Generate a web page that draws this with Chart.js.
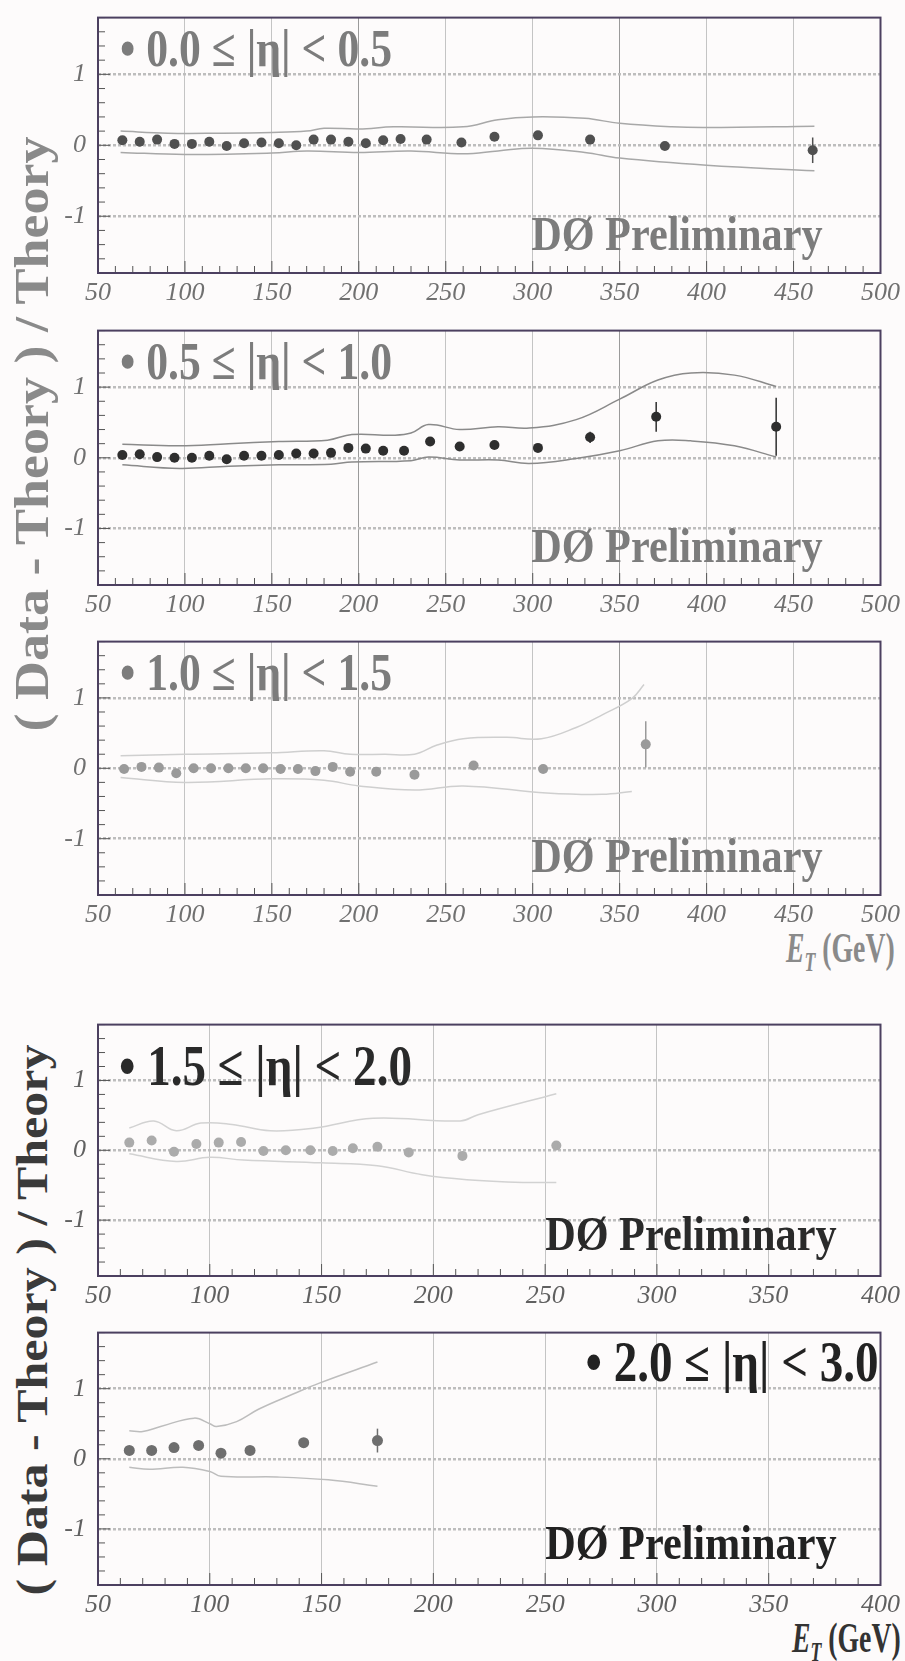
<!DOCTYPE html>
<html>
<head>
<meta charset="utf-8">
<script src="https://cdn.jsdelivr.net/npm/chart.js@4.4.0/dist/chart.umd.min.js"></script>
<style>
  body { margin: 0; background: #fdfbfb; width: 905px; height: 1661px; position: relative; overflow: hidden; font-family: "Liberation Serif", "Times New Roman", serif; }
  canvas { position: absolute; left: 0; }
  .ytitle { position: absolute; font-weight: bold; white-space: nowrap; transform: translate(-50%, -50%) rotate(-90deg) scaleY(0.9); }
  .et { position: absolute; font-weight: bold; font-size: 42px; line-height: 48px; white-space: nowrap; transform: scaleX(0.66); transform-origin: left top; }
  .et sub { font-size: 27px; }
</style>
</head>
<body>
<div class="ytitle" style="left:32px; top:434px; font-size:54px; color:#8a8a8a;">( Data - Theory ) / Theory</div>
<div class="ytitle" style="left:32px; top:1320px; font-size:50px; color:#3a3a3a;">( Data - Theory ) / Theory</div>
<div class="et" style="left:786px; top:924px; color:#8a8a8a;"><i>E<sub>T</sub></i> (GeV)</div>
<div class="et" style="left:792px; top:1614px; color:#333;"><i>E<sub>T</sub></i> (GeV)</div>

<canvas id="p1"></canvas>
<canvas id="p2"></canvas>
<canvas id="p3"></canvas>
<canvas id="p4"></canvas>
<canvas id="p5"></canvas>

<script>
// tick labels
const xTicksWide = [50, 100, 150, 200, 250, 300, 350, 400, 450, 500];
const xTicksNarrow = [50, 100, 150, 200, 250, 300, 350, 400];
const yTicks = [-1, 0, 1];

// 0.0 <= |eta| < 0.5
const et1 = [64, 74, 84, 94, 104, 114, 124, 134, 144, 154, 164, 174, 184, 194, 204, 214, 224, 239, 259, 278, 303, 333, 376, 461];
const ratio1 = [0.07, 0.05, 0.08, 0.02, 0.02, 0.05, -0.01, 0.03, 0.04, 0.03, 0.0, 0.08, 0.08, 0.05, 0.03, 0.07, 0.09, 0.08, 0.04, 0.12, 0.14, 0.08, -0.01, -0.07];
const err1 = [0.02, 0.02, 0.02, 0.02, 0.02, 0.02, 0.02, 0.02, 0.02, 0.02, 0.02, 0.02, 0.02, 0.02, 0.02, 0.02, 0.02, 0.02, 0.03, 0.03, 0.03, 0.04, 0.05, 0.18];
const up1X = [63, 90, 120, 150, 170, 180, 200, 220, 260, 280, 300, 330, 350, 380, 400, 462];
const up1Y = [0.2, 0.17, 0.17, 0.18, 0.2, 0.24, 0.23, 0.26, 0.26, 0.36, 0.4, 0.38, 0.31, 0.26, 0.25, 0.27];
const lo1X = [63, 100, 150, 170, 200, 230, 260, 280, 300, 330, 350, 400, 462];
const lo1Y = [-0.1, -0.13, -0.11, -0.08, -0.1, -0.08, -0.12, -0.08, -0.04, -0.1, -0.18, -0.28, -0.36];

// 0.5 <= |eta| < 1.0
const et2 = [64, 74, 84, 94, 104, 114, 124, 134, 144, 154, 164, 174, 184, 194, 204, 214, 226, 241, 258, 278, 303, 333, 371, 440];
const ratio2 = [0.04, 0.05, 0.01, 0.0, 0.0, 0.03, -0.02, 0.03, 0.03, 0.04, 0.06, 0.06, 0.07, 0.14, 0.13, 0.1, 0.1, 0.23, 0.16, 0.18, 0.14, 0.29, 0.58, 0.44];
const err2 = [0.02, 0.02, 0.02, 0.02, 0.02, 0.02, 0.02, 0.02, 0.02, 0.02, 0.02, 0.02, 0.02, 0.02, 0.02, 0.02, 0.03, 0.03, 0.03, 0.03, 0.04, 0.08, 0.21, 0.41];
const up2X = [64, 97, 125, 154, 182, 196, 220, 230, 240, 258, 280, 298, 325, 350, 372, 391, 416, 440];
const up2Y = [0.19, 0.17, 0.2, 0.23, 0.25, 0.33, 0.32, 0.35, 0.47, 0.4, 0.44, 0.42, 0.54, 0.83, 1.1, 1.2, 1.17, 1.01];
const lo2X = [64, 97, 125, 154, 184, 196, 230, 240, 258, 280, 298, 325, 350, 372, 391, 416, 440];
const lo2Y = [-0.1, -0.15, -0.12, -0.1, -0.09, -0.06, -0.04, 0.01, -0.03, -0.03, -0.08, -0.01, 0.1, 0.24, 0.24, 0.17, 0.01];

// 1.0 <= |eta| < 1.5
const et3 = [65, 75, 85, 95, 105, 115, 125, 135, 145, 155, 165, 175, 185, 195, 210, 232, 266, 306, 365];
const ratio3 = [-0.01, 0.02, 0.01, -0.07, 0.0, 0.0, 0.0, 0.0, 0.0, -0.01, -0.01, -0.04, 0.02, -0.05, -0.05, -0.09, 0.04, -0.01, 0.34];
const err3 = [0.02, 0.02, 0.02, 0.02, 0.02, 0.02, 0.02, 0.02, 0.02, 0.02, 0.02, 0.02, 0.02, 0.03, 0.03, 0.04, 0.04, 0.04, 0.33];
const up3X = [63, 100, 150, 180, 195, 215, 232, 245, 260, 285, 305, 325, 340, 357, 364];
const up3Y = [0.18, 0.2, 0.22, 0.25, 0.2, 0.2, 0.2, 0.33, 0.42, 0.44, 0.42, 0.58, 0.76, 0.99, 1.19];
const lo3X = [63, 100, 150, 180, 200, 232, 260, 308, 340, 357];
const lo3Y = [-0.13, -0.2, -0.15, -0.17, -0.25, -0.31, -0.25, -0.35, -0.37, -0.33];

// 1.5 <= |eta| < 2.0
const et4 = [64, 74, 84, 94, 104, 114, 124, 134, 145, 155, 164, 175, 189, 213, 255];
const ratio4 = [0.11, 0.14, -0.02, 0.09, 0.11, 0.12, -0.01, 0.0, 0.0, -0.01, 0.03, 0.05, -0.03, -0.08, 0.07];
const err4 = [0.03, 0.03, 0.03, 0.03, 0.03, 0.03, 0.03, 0.03, 0.03, 0.03, 0.03, 0.03, 0.04, 0.05, 0.06];
const up4X = [64, 75, 85, 96, 110, 127, 147, 173, 212, 220, 255];
const up4Y = [0.32, 0.42, 0.28, 0.39, 0.37, 0.28, 0.32, 0.46, 0.42, 0.51, 0.81];
const lo4X = [64, 85, 100, 115, 150, 175, 195, 215, 240, 255];
const lo4Y = [-0.05, -0.16, -0.1, -0.14, -0.18, -0.22, -0.35, -0.42, -0.46, -0.46];

// 2.0 <= |eta| < 3.0
const et5 = [64, 74, 84, 95, 105, 118, 142, 175];
const ratio5 = [0.12, 0.12, 0.16, 0.19, 0.08, 0.12, 0.23, 0.26];
const err5 = [0.03, 0.03, 0.03, 0.03, 0.03, 0.04, 0.06, 0.17];
const up5X = [64, 70, 78, 93, 100, 103, 112, 122, 137, 149, 175];
const up5Y = [0.4, 0.39, 0.46, 0.58, 0.5, 0.46, 0.53, 0.71, 0.92, 1.08, 1.38];
const lo5X = [64, 73, 88, 100, 105, 130, 153, 175];
const lo5Y = [-0.12, -0.15, -0.12, -0.18, -0.25, -0.26, -0.3, -0.39];

const toXY = (xs, ys) => xs.map((x, i) => ({ x: x, y: ys[i] }));
const SERIF = "'Liberation Serif', 'Times New Roman', serif";

// condensed text, like the squeezed scan
function squeezeText(ctx, text, x, y, align, sx) {
  ctx.save();
  ctx.translate(x, y);
  ctx.scale(sx, 1);
  ctx.textAlign = align;
  ctx.fillText(text, 0, 0);
  ctx.restore();
}

// draws error bars, minor ticks, frame and panel texts
const decor = {
  id: "decor",
  afterDatasetsDraw(chart) {
    const { ctx, scales: { x, y } } = chart;
    const ds = chart.data.datasets[0];
    ctx.save();
    ctx.strokeStyle = ds.backgroundColor;
    ctx.lineWidth = 1.5;
    ds.data.forEach((p, i) => {
      const e = ds.errors[i];
      const px = x.getPixelForValue(p.x);
      ctx.beginPath();
      ctx.moveTo(px, y.getPixelForValue(p.y - e));
      ctx.lineTo(px, y.getPixelForValue(p.y + e));
      ctx.stroke();
    });
    ctx.restore();
  },
  afterDraw(chart, args, opts) {
    const { ctx, chartArea: a, scales: { x, y } } = chart;
    ctx.save();
    // minor ticks
    ctx.strokeStyle = "#555";
    ctx.lineWidth = 1;
    for (let v = 50; v <= x.max; v += 10) {
      const px = x.getPixelForValue(v);
      const len = v % 50 === 0 ? 12 : 7;
      ctx.beginPath();
      ctx.moveTo(px, a.bottom);
      ctx.lineTo(px, a.bottom - len);
      ctx.stroke();
    }
    for (let i = -9; i <= 9; i++) {
      const py = y.getPixelForValue(i * 0.2);
      const len = i % 5 === 0 ? 12 : 7;
      ctx.beginPath();
      ctx.moveTo(a.left, py);
      ctx.lineTo(a.left + len, py);
      ctx.stroke();
    }
    // frame
    ctx.strokeStyle = opts.frame;
    ctx.lineWidth = 2;
    ctx.strokeRect(a.left, a.top, a.right - a.left, a.bottom - a.top);
    // eta label
    ctx.fillStyle = opts.textColor;
    ctx.textBaseline = "alphabetic";
    ctx.font = "bold " + opts.labelSize + "px " + SERIF;
    if (opts.labelRight) {
      squeezeText(ctx, opts.label, a.right - 2, a.top + opts.labelDy, "right", 0.84);
    } else {
      squeezeText(ctx, opts.label, a.left + opts.labelDx, a.top + opts.labelDy, "left", 0.84);
    }
    // experiment tag
    ctx.font = "bold 48px " + SERIF;
    squeezeText(ctx, "DØ Preliminary", a.right - opts.tagDx, a.bottom - opts.tagDy, "right", 0.88);
    ctx.restore();
  }
};

function makePanel(id, o) {
  const canvas = document.getElementById(id);
  const h = o.bottom - o.top + 20 + 45;
  canvas.width = 905;
  canvas.height = h;
  canvas.style.top = (o.top - 20) + "px";
  canvas.style.width = "905px";
  canvas.style.height = h + "px";

  const band = (pts) => ({
    type: "line",
    data: pts,
    showLine: true,
    borderColor: o.bandColor,
    borderWidth: 1.5,
    pointRadius: 0,
    tension: 0.4,
    fill: false,
  });

  new Chart(canvas.getContext("2d"), {
    type: "scatter",
    data: {
      datasets: [
        {
          data: toXY(o.et, o.ratio),
          errors: o.err,
          backgroundColor: o.dotColor,
          borderWidth: 0,
          pointRadius: o.dotRadius,
        },
        band(toXY(o.upX, o.upY)),
        band(toXY(o.loX, o.loY)),
      ],
    },
    options: {
      responsive: false,
      animation: false,
      devicePixelRatio: 1,
      layout: { padding: { top: 20, right: 19, left: 0, bottom: 0 } },
      plugins: {
        legend: { display: false },
        tooltip: { enabled: false },
        decor: {
          frame: "#4c4060",
          textColor: o.textColor,
          label: o.label,
          labelSize: o.labelSize,
          labelRight: o.labelRight,
          labelDx: o.labelDx,
          labelDy: o.labelDy,
          tagDx: o.tagDx,
          tagDy: o.tagDy,
        },
      },
      scales: {
        x: {
          type: "linear",
          min: 50,
          max: o.xMax,
          afterBuildTicks: (s) => { s.ticks = o.xTicks.map((v) => ({ value: v })); },
          afterFit: (s) => { s.height = 45; },
          grid: {
            color: (c) => (c.tick && (c.tick.value === 350 || c.tick.value === 200) && o.xMax === 500 ? "#9a9a9a" : "#c4c4c4"),
            lineWidth: 1,
            drawTicks: false,
          },
          border: { display: false },
          ticks: {
            padding: 5,
            color: o.tickColor,
            font: { family: SERIF, size: 26, style: "italic" },
            maxRotation: 0,
          },
        },
        y: {
          type: "linear",
          min: -1.8,
          max: 1.8,
          afterBuildTicks: (s) => { s.ticks = yTicks.map((v) => ({ value: v })); },
          afterFit: (s) => { s.width = 98; },
          grid: { color: "#bdbdbd", lineWidth: 2.5, drawTicks: false },
          border: { display: false, dash: [3, 2] },
          ticks: {
            padding: 12,
            color: o.tickColor,
            font: { family: SERIF, size: 26, style: "italic" },
            callback: (v) => String(v),
          },
        },
      },
    },
    plugins: [decor],
  });
}

makePanel("p1", {
  top: 10, bottom: 273, xMax: 500, xTicks: xTicksWide,
  et: et1, ratio: ratio1, err: err1, upX: up1X, upY: up1Y, loX: lo1X, loY: lo1Y,
  dotColor: "#505050", dotRadius: 5, bandColor: "#a8a8a8",
  textColor: "#7c7c7c", tickColor: "#707070",
  label: "• 0.0 ≤ |η| < 0.5", labelSize: 52, labelDx: 22, labelDy: 48, tagDx: 58, tagDy: 23,
});
makePanel("p2", {
  top: 323, bottom: 585, xMax: 500, xTicks: xTicksWide,
  et: et2, ratio: ratio2, err: err2, upX: up2X, upY: up2Y, loX: lo2X, loY: lo2Y,
  dotColor: "#2e2e2e", dotRadius: 5, bandColor: "#8a8a8a",
  textColor: "#7c7c7c", tickColor: "#707070",
  label: "• 0.5 ≤ |η| < 1.0", labelSize: 52, labelDx: 22, labelDy: 48, tagDx: 58, tagDy: 23,
});
makePanel("p3", {
  top: 634, bottom: 895, xMax: 500, xTicks: xTicksWide,
  et: et3, ratio: ratio3, err: err3, upX: up3X, upY: up3Y, loX: lo3X, loY: lo3Y,
  dotColor: "#9a9a9a", dotRadius: 5, bandColor: "#cfcfcf",
  textColor: "#7c7c7c", tickColor: "#707070",
  label: "• 1.0 ≤ |η| < 1.5", labelSize: 52, labelDx: 22, labelDy: 48, tagDx: 58, tagDy: 23,
});
makePanel("p4", {
  top: 1017, bottom: 1276, xMax: 400, xTicks: xTicksNarrow,
  et: et4, ratio: ratio4, err: err4, upX: up4X, upY: up4Y, loX: lo4X, loY: lo4Y,
  dotColor: "#ababab", dotRadius: 5, bandColor: "#d2d2d2",
  textColor: "#2a2a2a", tickColor: "#606060",
  label: "• 1.5 ≤ |η| < 2.0", labelSize: 56, labelDx: 21, labelDy: 60, tagDx: 44, tagDy: 26,
});
makePanel("p5", {
  top: 1325, bottom: 1585, xMax: 400, xTicks: xTicksNarrow,
  et: et5, ratio: ratio5, err: err5, upX: up5X, upY: up5Y, loX: lo5X, loY: lo5Y,
  dotColor: "#6e6e6e", dotRadius: 5.5, bandColor: "#bdbdbd",
  textColor: "#222222", tickColor: "#606060",
  label: "• 2.0 ≤ |η| < 3.0", labelSize: 56, labelRight: true, labelDy: 48, tagDx: 44, tagDy: 26,
});
</script>
</body>
</html>
